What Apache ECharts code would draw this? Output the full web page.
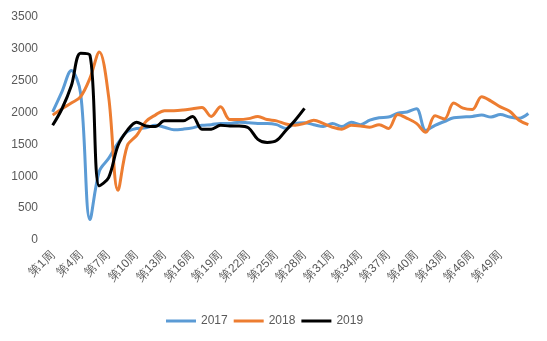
<!DOCTYPE html>
<html>
<head>
<meta charset="utf-8">
<script src="https://cdn.jsdelivr.net/npm/echarts@6/dist/echarts.min.js"></script>
<style>
html,body{margin:0;padding:0;background:#fff;}
#c{width:547px;height:341px;}
</style>
</head>
<body>
<div id="c"></div>
<script>
const weeks = [];
for (let i = 1; i <= 52; i++) weeks.push('第' + i + '周');

const s2017 = [2010, 2330, 2660, 2300, 320, 1080, 1280, 1520, 1700, 1750,
  1760, 1800, 1770, 1730, 1740, 1760, 1800, 1810, 1830, 1830,
  1850, 1840, 1830, 1830, 1810, 1750, 1830, 1840, 1810, 1780,
  1830, 1780, 1850, 1810, 1880, 1920, 1930, 1990, 2010, 2060,
  1720, 1800, 1860, 1920, 1930, 1940, 1960, 1930, 1970, 1930,
  1910, 1985];

const s2018 = [1960, 2060, 2150, 2250, 2540, 2950, 2250, 780, 1480, 1640,
  1860, 1960, 2030, 2030, 2040, 2060, 2080, 1940, 2090, 1890,
  1890, 1905, 1940, 1890, 1870, 1820, 1800, 1830, 1880, 1830,
  1770, 1740, 1800, 1790, 1770, 1810, 1750, 1970, 1910, 1830,
  1690, 1950, 1900, 2150, 2070, 2050, 2250, 2180, 2090, 2020,
  1880, 1810];

const s2019 = [1800, 2060, 2420, 2930, 2900, 850, 980, 1480, 1720, 1850,
  1790, 1780, 1870, 1870, 1870, 1940, 1740, 1740, 1800, 1790,
  1790, 1760, 1580, 1530, 1560, 1720, 1880, 2065];

const yTicks = { min: 0, max: 3500, interval: 500 };
const lastLabelIndex = 48; // 第49周 is the last label shown

const chart = echarts.init(document.getElementById('c'));
const font = 'Liberation Sans, Arial, sans-serif';
const lineSeries = (name, data, color) => ({
  name, type: 'line', data, smooth: 0.35, symbol: 'none',
  lineStyle: { color, width: 3 }, itemStyle: { color }
});
chart.setOption({
  animation: false,
  textStyle: { fontFamily: font },
  grid: { left: 48, right: 14, top: 17, bottom: 101, containLabel: false },
  legend: {
    left: 161, top: 310, itemWidth: 30, itemHeight: 3, itemGap: 6,
    textStyle: { color: '#595959', fontSize: 12, fontFamily: font },
    icon: 'rect',
    data: ['2017', '2018', '2019']
  },
  xAxis: {
    type: 'category', data: weeks, boundaryGap: true,
    axisLine: { show: false }, axisTick: { show: false },
    axisLabel: {
      interval: (i) => i % 3 === 0 && i <= lastLabelIndex,
      rotate: 45, color: '#595959', fontSize: 12, margin: 13, fontFamily: font
    }
  },
  yAxis: {
    type: 'value', min: yTicks.min, max: yTicks.max, interval: yTicks.interval,
    splitLine: { show: false }, axisLine: { show: false }, axisTick: { show: false },
    axisLabel: { color: '#595959', fontSize: 12, margin: 10, fontFamily: font,
      formatter: (v) => String(v) }
  },
  series: [
    lineSeries('2017', s2017, '#5B9BD5'),
    lineSeries('2018', s2018, '#ED7D31'),
    lineSeries('2019', s2019, '#000000')
  ]
});
</script>
</body>
</html>
